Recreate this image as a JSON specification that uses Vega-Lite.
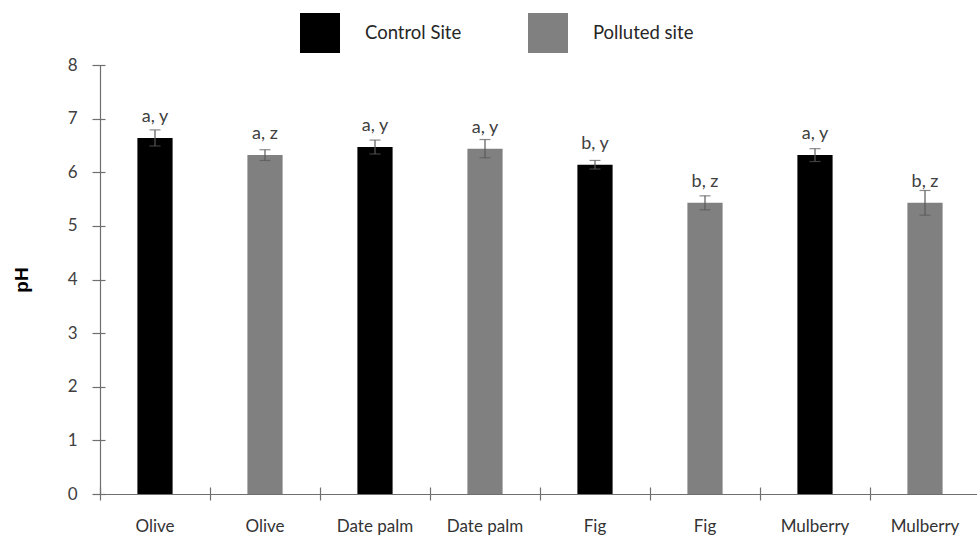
{
  "$schema": "https://vega.github.io/schema/vega-lite/v6.json",
  "width": 880,
  "height": 429,
  "autosize": {"type": "none"},
  "padding": {"left": 100, "top": 65, "right": 0, "bottom": 43},
  "background": "white",
  "config": {"view": {"stroke": null}},
  "data": {"values": [
    {"key": "Olive|C", "site": "Control Site", "value": 6.64, "lo": 6.49, "hi": 6.79, "label": "a, y"},
    {"key": "Olive|P", "site": "Polluted site", "value": 6.32, "lo": 6.22, "hi": 6.42, "label": "a, z"},
    {"key": "Date palm|C", "site": "Control Site", "value": 6.47, "lo": 6.34, "hi": 6.60, "label": "a, y"},
    {"key": "Date palm|P", "site": "Polluted site", "value": 6.44, "lo": 6.27, "hi": 6.61, "label": "a, y"},
    {"key": "Fig|C", "site": "Control Site", "value": 6.14, "lo": 6.06, "hi": 6.22, "label": "b, y"},
    {"key": "Fig|P", "site": "Polluted site", "value": 5.43, "lo": 5.30, "hi": 5.56, "label": "b, z"},
    {"key": "Mulberry|C", "site": "Control Site", "value": 6.32, "lo": 6.20, "hi": 6.44, "label": "a, y"},
    {"key": "Mulberry|P", "site": "Polluted site", "value": 5.43, "lo": 5.20, "hi": 5.66, "label": "b, z"}
  ]},
  "resolve": {"axis": {"x": "independent", "y": "independent"}},
  "layer": [
    {
      "mark": {"type": "bar", "width": {"band": 0.32}},
      "encoding": {
        "x": {"field": "key", "type": "nominal", "sort": null,
          "scale": {"paddingInner": 0, "paddingOuter": 0},
          "axis": {"title": null, "labelExpr": "split(datum.label, '|')[0]", "labelAngle": 0,
            "ticks": false, "tickSize": 0, "labelPadding": 24, "labelFont": "Lato", "labelFontSize": 17,
            "labelColor": "#333333", "domainColor": "#6f6f6f", "domainWidth": 1.2, "orient": "bottom"}},
        "y": {"field": "value", "type": "quantitative",
          "scale": {"domain": [0, 8]},
          "axis": {"title": "pH", "orient": "left", "values": [0,1,2,3,4,5,6,7,8], "grid": false,
            "ticks": false, "tickSize": 0, "labelPadding": 23, "labelFont": "Lato", "labelFontSize": 17,
            "labelColor": "#404040", "domainColor": "#6f6f6f", "domainWidth": 1.2,
            "titleFont": "Liberation Sans", "titleFontSize": 19, "titleFontWeight": "bold", "titleColor": "#000000", "titlePadding": 36}},
        "color": {"field": "site", "type": "nominal",
          "scale": {"domain": ["Control Site", "Polluted site"], "range": ["#000000", "#808080"]},
          "legend": {"title": null, "orient": "none", "legendX": 200, "legendY": -52, "direction": "horizontal",
            "symbolType": "square", "symbolSize": 1600, "symbolStrokeWidth": 0, "labelFont": "Lato", "labelFontSize": 18.5,
            "labelColor": "#262626", "labelOffset": 25, "columnPadding": 66, "padding": 0}}
      }
    },
    {
      "mark": {"type": "errorbar", "ticks": {"size": 11, "color": "#595959", "thickness": 1.2}, "rule": {"color": "#595959", "strokeWidth": 1.2}},
      "encoding": {
        "x": {"field": "key", "type": "nominal", "sort": null, "axis": null},
        "y": {"field": "lo", "type": "quantitative", "axis": null},
        "y2": {"field": "hi"}
      }
    },
    {
      "mark": {"type": "text", "dy": -16, "baseline": "alphabetic", "font": "Lato", "fontSize": 18, "color": "#404040"},
      "encoding": {
        "x": {"field": "key", "type": "nominal", "sort": null, "axis": null},
        "y": {"field": "value", "type": "quantitative", "axis": null},
        "text": {"field": "label"}
      }
    },
    {
      "mark": {"type": "bar", "opacity": 0},
      "encoding": {
        "x": {"field": "key", "type": "nominal", "sort": null,
          "axis": {"title": null, "orient": "bottom", "bandPosition": 0, "labels": false, "domain": false,
            "ticks": true, "tickSize": 13, "offset": -7, "tickColor": "#6f6f6f", "tickWidth": 1.2}},
        "y": {"field": "value", "type": "quantitative",
          "axis": {"title": null, "orient": "left", "values": [0,1,2,3,4,5,6,7,8], "grid": false, "labels": false, "domain": false,
            "ticks": true, "tickSize": 13, "offset": -5, "tickColor": "#6f6f6f", "tickWidth": 1.2}}
      }
    }
  ]
}
